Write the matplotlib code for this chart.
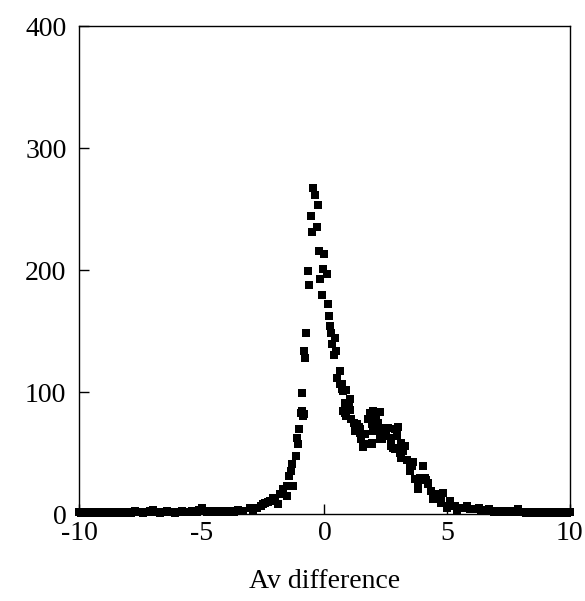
import numpy as np
import matplotlib
matplotlib.use("Agg")
import matplotlib.pyplot as plt

# left tail, bins every 0.1 from -10 to -3.4
tail_left_x = np.round(np.arange(-10.0, -3.35, 0.1), 1)
tail_left_y = [2, 1, 2, 1, 2, 2, 1, 1, 2, 1, 2, 2, 1, 2, 1, 1, 2, 2, 1, 2,
               2, 1, 2, 3, 2, 2, 1, 2, 2, 3, 4, 2, 2, 1, 2, 2, 3, 2, 2, 1,
               2, 2, 3, 2, 2, 2, 3, 2, 2, 4, 5, 3, 2, 3, 2, 3, 3, 2, 3, 3,
               2, 3, 3, 2, 3, 4, 3]

# central part, read point by point
core_x = [-3.3, -3.03, -2.9, -2.76, -2.6, -2.5, -2.4, -2.3, -2.22, -2.09,
          -2.0, -1.88, -1.81, -1.68, -1.54, -1.54, -1.43, -1.38, -1.27, -1.3,
          -1.16, -1.07, -1.13, -1.03, -0.97, -0.86, -0.84, -0.93, -0.93, -0.78,
          -0.84, -0.73, -0.66, -0.62, -0.56, -0.52, -0.456, -0.387, -0.32, -0.25,
          -0.21, -0.16, -0.11, -0.07, -0.02, 0.09, 0.16, 0.18, 0.22, 0.29,
          0.32, 0.39, 0.43, 0.47, 0.52, 0.63, 0.63, 0.70, 0.70, 0.77,
          0.77, 0.84, 0.84, 0.90, 0.90, 1.04, 1.04, 1.10, 1.24, 1.31,
          1.45, 1.45, 1.51, 1.58, 1.65, 1.65, 1.79, 1.85, 1.92, 1.92,
          1.92, 1.99, 1.99, 2.19, 2.26, 2.26, 2.26, 2.33, 2.40, 2.53,
          2.60, 2.73, 2.73, 2.80, 2.87, 2.87, 2.94, 2.94, 3.08, 3.14,
          3.14, 3.21, 3.35, 3.48, 3.48, 3.55, 3.69, 3.82, 3.82, 3.89,
          4.02, 4.09, 4.23, 4.23, 4.36, 4.43, 4.43, 4.57, 4.57, 4.77,
          4.77, 4.84, 4.98, 4.98, 5.11, 5.32, 5.39, 5.59, 5.80, 5.93,
          6.20, 1.40, 1.20, 1.00, 2.10, 2.50, 3.00, 3.30, 3.60, 4.15]
core_y = [2.7, 5.5, 4, 5.5, 7, 8.2, 9, 10, 10.9, 13.7,
          12, 8.2, 16.4, 20.5, 23.2, 15, 31.4, 35.5, 23.2, 41,
          47.8, 57.4, 62.8, 70, 83.4, 81, 82, 99.7, 84.7, 128.4,
          133.9, 149, 199.4, 188, 245, 231.7, 267.8, 261.7, 235.5, 254,
          215.8, 193.4, 179.8, 200.8, 213.7, 196.7, 172.7, 162.5, 154.3, 149,
          140, 130.6, 144.8, 133.9, 112, 117.5, 106.6, 106.6, 102.5, 101,
          84.7, 91.5, 83.4, 101.9, 80.6, 94.3, 86, 77.9, 68.3, 73.8,
          67, 69.7, 61.5, 55.5, 57.4, 65.6, 77.9, 83.4, 73.8, 57.4,
          58.8, 84.7, 68.3, 75.2, 84, 68.3, 61.5, 61.5, 71, 64.2,
          71, 62.8, 56, 54.7, 69.7, 53.3, 64.2, 69.7, 50.6, 46.5,
          58.8, 51.9, 45, 41, 35.5, 39.6, 28.7, 23.2, 20.5, 30,
          39.6, 30, 26, 24.6, 19.1, 16.4, 12.3, 16.4, 13.7, 9.6,
          10.9, 17.8, 5.5, 6.8, 10.9, 6.8, 2.7, 5.5, 6.8, 4.7,
          4.1, 72, 75, 88, 78, 66, 72, 56, 43, 28]

# right tail, bins every 0.1 from 6.3 to 10
tail_right_x = np.round(np.arange(6.3, 10.05, 0.1), 1)
tail_right_y = [5.5, 3, 4, 3, 4.1, 3, 2, 3, 2, 3, 2, 2, 3, 2, 2, 3, 4.7, 2,
                2, 1, 2, 2, 1, 2, 2, 1, 2, 1, 2, 2, 1, 1, 2, 1, 2, 1, 1, 2]

x = np.concatenate([tail_left_x, core_x, tail_right_x])
y = np.concatenate([tail_left_y, core_y, tail_right_y])

plt.rcParams['font.family'] = ['Liberation Serif', 'DejaVu Serif']

fig = plt.figure(figsize=(5.85, 6.01), dpi=100)
ax = fig.add_axes([0.135, 0.144, 0.839, 0.812])
ax.scatter(x, y, marker='s', s=30, color='black', linewidths=0, clip_on=False, zorder=3)

ax.set_xlim(-10, 10)
ax.set_ylim(0, 400)
ax.set_xticks([-10, -5, 0, 5, 10])
ax.set_xticklabels(['-10', '-5', '0', '5', '10'])
ax.set_yticks([0, 100, 200, 300, 400])
ax.tick_params(direction='in', length=7, width=1, labelsize=20, pad=5)
ax.tick_params(axis='y', pad=9)
for sp in ax.spines.values():
    sp.set_linewidth(1)
ax.set_xlabel('Av difference', fontsize=20, labelpad=16)

fig.savefig('out.png', dpi=100)
